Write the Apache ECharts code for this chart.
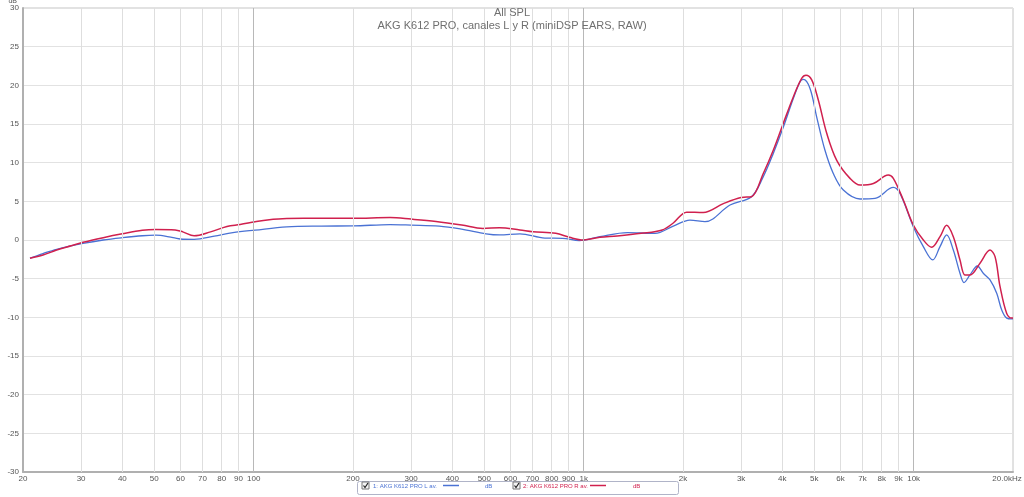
<!DOCTYPE html>
<html><head><meta charset="utf-8">
<script src="https://cdn.jsdelivr.net/npm/echarts@6/dist/echarts.min.js"></script>
<style>html,body{margin:0;padding:0;background:#fff}#c{width:1024px;height:497px}</style>
</head><body><div id="c"></div>
<script>
const titleLines = ['All SPL', 'AKG K612 PRO, canales L y R (miniDSP EARS, RAW)'];
const seriesNames = ['1: AKG K612 PRO L av.', '2: AKG K612 PRO R av.'];
const unitLabel = 'dB';

const freqL = [21,23,25.3,30.4,35,40,46,50.5,57,61,66,76,86.5,101,126,160,200,259,300,365,427,506,556,641,763,863,970,1120,1358,1645,1869,2100,2332,2777,3225,3502,3755,4028,4318,4524,4630,4852,5084,5386,5708,6122,6879,7636,8677,9092,9976,10698,11424,12018,12590,13188,13816,14206,14812,15594,16256,17038,17852,18486,19142,19818,20000];
const dbL   = [-2.35,-1.75,-1.2,-0.45,0.0,0.3,0.55,0.62,0.3,0.1,0.08,0.5,0.95,1.28,1.7,1.8,1.82,2.0,1.93,1.8,1.4,0.8,0.65,0.8,0.25,0.22,-0.08,0.43,0.95,0.86,1.8,2.58,2.37,4.52,5.6,8.2,11.2,14.6,18.3,20.45,20.76,19.6,15.9,11.6,8.6,6.46,5.3,5.38,6.8,6.03,1.72,-0.86,-2.58,-0.86,0.65,-1.3,-4.3,-5.5,-4.52,-3.36,-4.3,-5.17,-6.9,-9.05,-10.1,-10.2,-10.2];

const freqR = [21,23,25.3,28,30.4,35,40,46,50.5,57.8,61,66,74,83,91,101,110,126,160,200,259,300,357,427,495,556,641,702,823,905,997,1120,1263,1494,1730,1869,2052,2304,2650,3000,3225,3502,3755,4028,4318,4578,4718,4910,5141,5452,5846,6414,6879,7548,8378,8677,9304,9976,10698,11342,12018,12590,13188,13816,14305,14812,15886,17038,17644,18267,19142,19818,20000];
const dbR   = [-2.35,-1.95,-1.3,-0.75,-0.3,0.3,0.8,1.25,1.35,1.3,1.05,0.55,1.05,1.75,2.0,2.35,2.6,2.78,2.8,2.8,2.9,2.7,2.4,1.95,1.5,1.6,1.3,1.07,0.86,0.35,0.0,0.35,0.52,0.86,1.3,2.2,3.6,3.55,4.7,5.5,5.6,8.6,11.6,15.1,18.5,20.9,21.3,20.7,18.1,13.8,10.3,7.97,7.1,7.3,8.4,7.97,5.17,1.94,0.0,-0.95,0.43,1.9,0.43,-2.58,-4.52,-4.52,-3.0,-1.3,-2.15,-6.0,-9.5,-10.1,-10.1];

const xTickValues = [20,30,40,50,60,70,80,90,100,200,300,400,500,600,700,800,900,1000,2000,3000,4000,5000,6000,7000,8000,9000,10000,20000];
const xTickLabels = ['20','30','40','50','60','70','80','90','100','200','300','400','500','600','700','800','900','1k','2k','3k','4k','5k','6k','7k','8k','9k','10k','20.0kHz'];
const gridMajor = [100,1000,10000];
const gridMinor = [30,40,50,60,70,80,90,200,300,400,500,600,700,800,900,2000,3000,4000,5000,6000,7000,8000,9000];

const colL = '#4a72d4', colR = '#d0204e';
const chart = echarts.init(document.getElementById('c'), null, {renderer:'canvas'});
const pairs = (f, d) => f.map((v, i) => [v, d[i]]);
const labelMap = {};
xTickValues.forEach((v, i) => labelMap[v] = xTickLabels[i]);
const lastTick = xTickValues[xTickValues.length - 1];

const gridLines = gridMinor.map(v => ({xAxis: v, lineStyle: {color: '#dedede'}}))
  .concat(gridMajor.map(v => ({xAxis: v, lineStyle: {color: '#b8b8b8'}})));

const lgFont = '6px "Liberation Sans", Arial, sans-serif';
function checkbox(x, y) {
  return [
    {type:'rect', shape:{x:x, y:y, width:7, height:7}, style:{fill:'#f4f4f4', stroke:'#777', lineWidth:1}},
    {type:'polyline', shape:{points:[[x+1.5,y+3.5],[x+3,y+5.5],[x+6,y+1]]}, style:{stroke:'#222', lineWidth:1.2, fill:null}}
  ];
}
const lg = [];
lg.push({type:'rect', shape:{x:357.5, y:481.5, width:321, height:13, r:2}, style:{fill:'#fff', stroke:'#b0b4c8', lineWidth:1}});
lg.push(...checkbox(362, 482));
lg.push({type:'text', x:373, y:486, style:{text:seriesNames[0], fill:colL, font:lgFont, verticalAlign:'middle'}});
lg.push({type:'line', shape:{x1:443, y1:485.5, x2:459, y2:485.5}, style:{stroke:colL, lineWidth:1.5}});
lg.push({type:'text', x:485, y:486, style:{text:unitLabel, fill:colL, font:lgFont, verticalAlign:'middle'}});
lg.push(...checkbox(513, 482));
lg.push({type:'text', x:523, y:486, style:{text:seriesNames[1], fill:colR, font:lgFont, verticalAlign:'middle'}});
lg.push({type:'line', shape:{x1:590, y1:485.5, x2:606, y2:485.5}, style:{stroke:colR, lineWidth:1.5}});
lg.push({type:'text', x:633, y:486, style:{text:unitLabel, fill:colR, font:lgFont, verticalAlign:'middle'}});

chart.setOption({
  animation: false,
  backgroundColor: '#fff',
  title: {
    text: titleLines.join('\n'), left: 'center', top: 1,
    textStyle: {color: '#6f6f6f', fontSize: 11, fontWeight: 'normal', fontFamily: '"Liberation Sans", Arial, sans-serif', lineHeight: 13}
  },
  grid: {left: 23, right: 11, top: 8, bottom: 25, show: true, borderColor: '#c4c4c4', borderWidth: 1,
         containLabel: false, outerBoundsMode: 'none'},
  xAxis: {
    type: 'log', logBase: 10, min: 20, max: 20000,
    axisLine: {show: true, onZero: false, lineStyle: {color: '#b0b0b0', width: 2}},
    axisTick: {show: false},
    splitLine: {show: false},
    minorSplitLine: {show: false},
    axisLabel: {
      customValues: xTickValues,
      hideOverlap: false,
      formatter: v => {
        const s = labelMap[Math.round(v)] || '';
        return Math.round(v) === lastTick ? '{last|' + s + '}' : s;
      },
      rich: {last: {fontSize: 8, color: '#555', padding: [0, 12, 0, 0], fontFamily: '"Liberation Sans", Arial, sans-serif'}},
      color: '#555', fontSize: 8, margin: 3, fontFamily: '"Liberation Sans", Arial, sans-serif'
    }
  },
  yAxis: {
    type: 'value', min: -30, max: 30, interval: 5,
    name: unitLabel, nameLocation: 'end', nameGap: 1,
    nameTextStyle: {color: '#555', fontSize: 7, align: 'right', padding: [0, 6, 0, 0]},
    axisLine: {show: true, lineStyle: {color: '#b0b0b0', width: 2}},
    axisTick: {show: false},
    splitLine: {lineStyle: {color: '#e2e2e2', width: 1}},
    axisLabel: {color: '#555', fontSize: 8, margin: 4, fontFamily: '"Liberation Sans", Arial, sans-serif'}
  },
  series: [
    {type: 'line', name: 'grid', data: [], silent: true, z: 1,
     markLine: {silent: true, symbol: 'none', animation: false, label: {show: false},
                lineStyle: {type: 'solid', width: 1}, data: gridLines}},
    {type: 'line', name: seriesNames[0], data: pairs(freqL, dbL), smooth: 0.35, showSymbol: false, z: 3,
     lineStyle: {color: colL, width: 1.3}, itemStyle: {color: colL}},
    {type: 'line', name: seriesNames[1], data: pairs(freqR, dbR), smooth: 0.35, showSymbol: false, z: 4,
     lineStyle: {color: colR, width: 1.5}, itemStyle: {color: colR}}
  ],
  graphic: lg
});
</script></body></html>
